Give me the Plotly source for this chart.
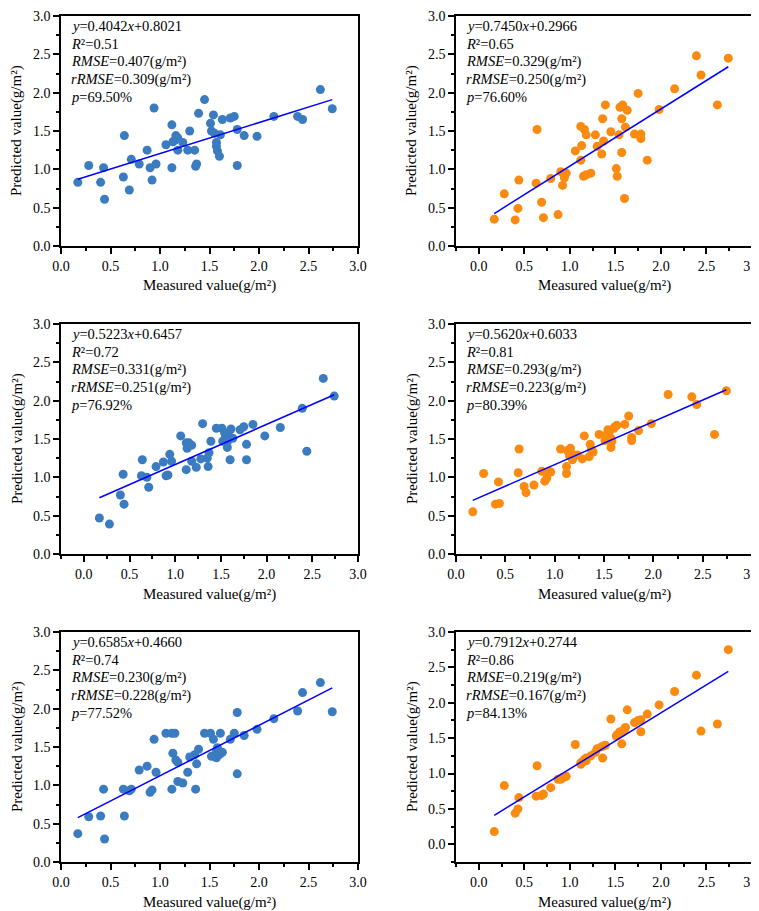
import plotly.graph_objects as go

# measured values are shared by all six panels
measured = [0.17, 0.28, 0.40, 0.43, 0.44, 0.63, 0.64, 0.69, 0.71, 0.79,
            0.87, 0.90, 0.92, 0.94, 0.96, 1.06, 1.12, 1.12, 1.13, 1.15,
            1.16, 1.18, 1.18, 1.23, 1.28, 1.30, 1.35, 1.36, 1.37, 1.39,
            1.45, 1.51, 1.52, 1.54, 1.55, 1.57, 1.57, 1.58, 1.60, 1.61,
            1.63, 1.71, 1.75, 1.78, 1.78, 1.85, 1.98, 2.15, 2.39, 2.44,
            2.62, 2.74]

pred_a = [0.83, 1.05, 0.83, 1.02, 0.61, 0.90, 1.44, 0.73, 1.13, 1.07,
          1.25, 1.02, 0.86, 1.80, 1.07, 1.32, 1.58, 1.02, 1.36, 1.38,
          1.44, 1.25, 1.41, 1.35, 1.25, 1.50, 1.25, 1.04, 1.07, 1.73,
          1.91, 1.60, 1.50, 1.71, 1.47, 1.35, 1.30, 1.24, 1.17, 1.45,
          1.65, 1.67, 1.69, 1.52, 1.05, 1.44, 1.43, 1.69, 1.69, 1.65,
          2.04, 1.79]

pred_b = [0.35, 0.68, 0.34, 0.49, 0.86, 0.82, 1.52, 0.57, 0.37, 0.88,
          0.41, 0.97, 0.79, 0.89, 0.95, 1.24, 1.56, 1.12, 1.31, 0.91,
          1.52, 1.45, 0.93, 0.95, 1.45, 1.30, 1.20, 1.66, 1.37, 1.84,
          1.49, 1.01, 0.91, 1.45, 1.81, 1.22, 1.66, 1.84, 0.62, 1.55,
          1.77, 1.46, 1.99, 1.46, 1.40, 1.12, 1.78, 2.05, 2.48, 2.23,
          1.84, 2.45]

pred_c = [0.47, 0.39, 0.77, 1.04, 0.65, 1.02, 1.23, 1.00, 0.87, 1.14,
          1.20, 1.02, 1.03, 1.30, 1.21, 1.54, 1.10, 1.45, 1.38, 1.45,
          1.42, 1.21, 1.42, 1.13, 1.24, 1.70, 1.25, 1.14, 1.32, 1.47,
          1.64, 1.64, 1.47, 1.58, 1.53, 1.39, 1.46, 1.58, 1.23, 1.63,
          1.51, 1.62, 1.66, 1.43, 1.23, 1.69, 1.54, 1.65, 1.90, 1.34,
          2.29, 2.06]

pred_d = [0.55, 1.05, 0.65, 0.94, 0.66, 1.06, 1.37, 0.88, 0.80, 0.90,
          1.08, 0.95, 0.99, 1.08, 1.07, 1.37, 1.05, 1.14, 1.35, 1.28,
          1.38, 1.23, 1.30, 1.29, 1.24, 1.54, 1.27, 1.43, 1.36, 1.33,
          1.56, 1.48, 1.55, 1.62, 1.58, 1.39, 1.51, 1.47, 1.64, 1.66,
          1.68, 1.69, 1.80, 1.52, 1.48, 1.61, 1.70, 2.08, 2.05, 1.95,
          1.56, 2.13]

pred_e = [0.37, 0.59, 0.60, 0.95, 0.30, 0.95, 0.60, 0.93, 0.95, 1.20,
          1.25, 0.91, 0.94, 1.60, 1.17, 1.68, 1.68, 0.95, 1.42, 1.68,
          1.33, 1.05, 1.30, 1.03, 1.17, 1.37, 1.40, 0.95, 1.28, 1.47,
          1.68, 1.68, 1.38, 1.60, 1.38, 1.36, 1.44, 1.49, 1.40, 1.68,
          1.43, 1.60, 1.68, 1.95, 1.15, 1.65, 1.73, 1.87, 1.97, 2.21,
          2.34, 1.96]

pred_f = [0.18, 0.83, 0.44, 0.50, 0.66, 0.68, 1.11, 0.69, 0.71, 0.80,
          0.92, 0.92, 0.94, 0.95, 0.96, 1.41, 1.13, 1.15, 1.16, 1.17,
          1.20, 1.22, 1.18, 1.25, 1.30, 1.35, 1.38, 1.22, 1.39, 1.40,
          1.77, 1.53, 1.55, 1.57, 1.59, 1.42, 1.58, 1.60, 1.62, 1.65,
          1.90, 1.72, 1.75, 1.76, 1.59, 1.84, 1.97, 2.16, 2.39, 1.60,
          1.70, 2.75]

predictions = [pred_a, pred_b, pred_c, pred_d, pred_e, pred_f]
slopes = [0.4042, 0.7450, 0.5223, 0.5620, 0.6585, 0.7912]
intercepts = [0.8021, 0.2966, 0.6457, 0.6033, 0.4660, 0.2744]
r2 = ["0.51", "0.65", "0.72", "0.81", "0.74", "0.86"]
rmse = ["0.407", "0.329", "0.331", "0.293", "0.230", "0.219"]
rrmse = ["0.309", "0.250", "0.251", "0.223", "0.228", "0.167"]
p_acc = ["69.50", "76.60", "76.92", "80.39", "77.52", "84.13"]
x_ranges = [[0, 3], [-0.25, 3], [-0.25, 3], [0, 3], [0, 3], [-0.25, 3]]
y_ranges = [[0, 3], [0, 3], [0, 3], [0, 3], [0, 3], [-0.25, 3]]

W, H = 759, 911
cols = [(53, 350), (448, 744)]
rows = [(8, 238), (316, 546), (624, 854)]
colors = ["#3b7bbf", "#fb8b10"]
FONT = "Liberation Serif, Times New Roman, serif"

fig = go.Figure()
layout = {}
annotations = []

for i, ys in enumerate(predictions):
    r, c = divmod(i, 2)
    n = "" if i == 0 else str(i + 1)
    xa, ya = "x" + n, "y" + n
    x0, x1 = cols[c]
    y0, y1 = rows[r]
    pw, ph = x1 - x0, y1 - y0

    fig.add_trace(go.Scatter(x=measured, y=ys, mode="markers", xaxis=xa, yaxis=ya,
                             marker=dict(size=9, color=colors[c]), showlegend=False))
    lx = [min(measured), max(measured)]
    fig.add_trace(go.Scatter(x=lx, y=[slopes[i] * v + intercepts[i] for v in lx],
                             mode="lines", xaxis=xa, yaxis=ya,
                             line=dict(color="#0000ff", width=1.5), showlegend=False))

    common = dict(showline=True, linecolor="black", linewidth=1.5, mirror=True,
                  ticks="outside", ticklen=6, tickwidth=1.5, tickcolor="black",
                  tick0=0, dtick=0.5, tickformat=".1f", showgrid=False, zeroline=False,
                  automargin=False,
                  tickfont=dict(family=FONT, size=14, color="black"),
                  minor=dict(dtick=0.25, ticks="outside", ticklen=3, tickwidth=1.5,
                             tickcolor="black", showgrid=False))
    layout["xaxis" + n] = dict(common, domain=[x0 / W, x1 / W], anchor=ya, range=x_ranges[i])
    layout["yaxis" + n] = dict(common, domain=[1 - y1 / H, 1 - y0 / H], anchor=xa, range=y_ranges[i])

    lines = [f"<i>y</i>={slopes[i]:.4f}<i>x</i>+{intercepts[i]:.4f}",
             f"<i>R</i>²={r2[i]}",
             f"<i>RMSE</i>={rmse[i]}(g/m²)",
             f"<i>rRMSE</i>={rrmse[i]}(g/m²)",
             f"<i>p</i>={p_acc[i]}%"]
    for k, t in enumerate(lines):
        annotations.append(dict(text=t, xref=xa + " domain", yref=ya + " domain",
                                x=8 / pw, y=1 - (10 + 17.7 * k) / ph,
                                xanchor="left", yanchor="middle", showarrow=False,
                                font=dict(family=FONT, size=14.5, color="black")))
    annotations.append(dict(text="Measured value(g/m²)", xref=xa + " domain", yref=ya + " domain",
                            x=0.5, y=-40 / ph, xanchor="center", yanchor="middle", showarrow=False,
                            font=dict(family=FONT, size=15, color="black")))
    annotations.append(dict(text="Predicted value(g/m²)", xref=xa + " domain", yref=ya + " domain",
                            x=-44 / pw, y=0.5, xanchor="center", yanchor="middle", showarrow=False,
                            textangle=-90, font=dict(family=FONT, size=15, color="black")))

fig.update_layout(width=W, height=H, margin=dict(l=0, r=0, t=0, b=0),
                  plot_bgcolor="white", paper_bgcolor="white",
                  annotations=annotations, **layout)

fig.write_html("out.html")
